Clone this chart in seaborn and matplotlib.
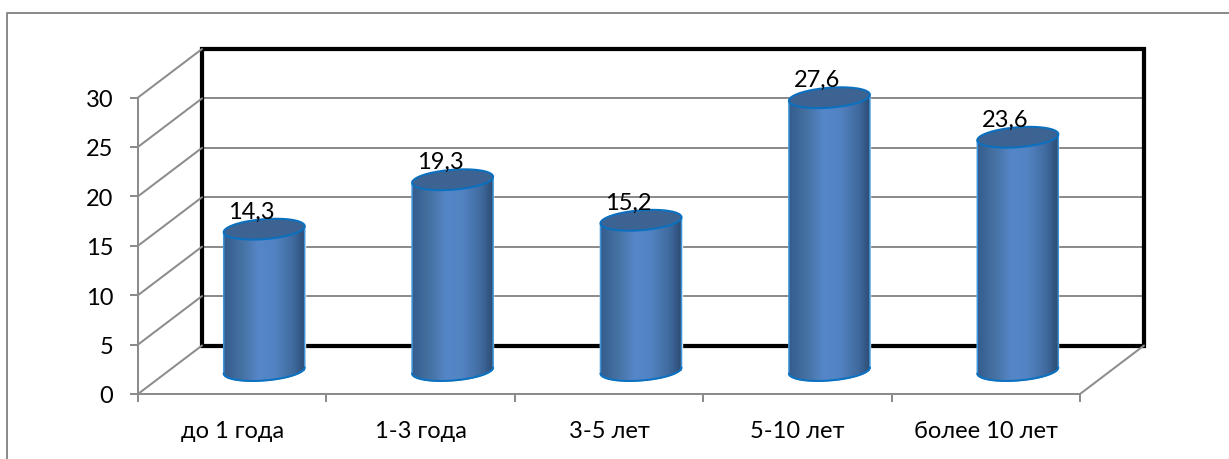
import numpy as np
import matplotlib
matplotlib.use("Agg")
import matplotlib.pyplot as plt
import matplotlib.transforms as mtrans
from matplotlib.colors import LinearSegmentedColormap
from matplotlib.lines import Line2D
from matplotlib.patches import Polygon, Rectangle
import seaborn as sns

categories = ["до 1 года", "1-3 года", "3-5 лет", "5-10 лет", "более 10 лет"]
values = [14.3, 19.3, 15.2, 27.6, 23.6]
y_ticks = [0, 5, 10, 15, 20, 25, 30]

GRAY = "#8c8c8c"
EDGE = "#0a70c0"
TOP = "#3c6391"
sns.set_theme(style="white")
plt.rcParams["font.family"] = ["Lato", "DejaVu Sans"]
FS = 17
PX = 0.72

W, H = 1229, 460
fig = plt.figure(figsize=(W / 100, H / 100), dpi=100, facecolor="white")
L, R, T, B = 138, 1080, 98.5, 395
ax = fig.add_axes([L / W, (H - B) / H, (R - L) / W, (B - T) / H])
ax.set_facecolor("none")

sns.barplot(x=categories, y=values, width=0.43, color="#4f7fc0", saturation=1, ax=ax, zorder=3)
bars = list(ax.patches)
ax.set_xlim(-0.5, len(categories) - 0.5)
ax.set_ylim(0, 30)
ax.set_xlabel("")
ax.set_ylabel("")

px_x = (R - L) / len(categories)
px_y = (B - T) / 30
wall_tf = mtrans.offset_copy(ax.transData, fig=fig, x=64, y=48.5, units="dots")
bar_tf = mtrans.offset_copy(ax.transData, fig=fig, x=32, y=23.5, units="dots")

# back wall, gridlines, side wall and floor
for v in y_ticks[1:-1]:
    ax.plot([-0.5, 4.5], [v, v], color=GRAY, lw=2 * PX, transform=wall_tf, clip_on=False, zorder=1)
for v in y_ticks:
    x0, y0 = ax.transData.transform((-0.5, v))
    x1, y1 = wall_tf.transform((-0.5, v))
    fig.add_artist(Line2D([x0 / W, x1 / W], [y0 / H, y1 / H], color=GRAY, lw=2 * PX, zorder=1))
x0, y0 = ax.transData.transform((4.5, 0))
x1, y1 = wall_tf.transform((4.5, 0))
fig.add_artist(Line2D([x0 / W, x1 / W], [y0 / H, y1 / H], color=GRAY, lw=2 * PX, zorder=1))
ax.add_patch(Rectangle((-0.5, 0), 5, 30, fc="none", ec="black", lw=4.2 * PX, transform=wall_tf,
                       clip_on=False, zorder=2, joinstyle="miter"))

# cylinders
cmap = LinearSegmentedColormap.from_list(
    "cyl", [(0, "#355c8e"), (0.2, "#44709f"), (0.42, "#5586c8"), (0.62, "#5283c2"), (0.85, "#3f6a9e"), (1, "#2b4a70")])
grad = np.linspace(0, 1, 256).reshape(1, -1)
t = np.linspace(0, 2 * np.pi, 120)
lower = np.linspace(np.pi, 2 * np.pi, 60)
for i, (bar, v) in enumerate(zip(bars, values)):
    a = bar.get_width() / 2
    b = 10 / px_y
    k = 3 / px_y
    cx = bar.get_x() + a
    bar.set_transform(bar_tf)
    bar.set_clip_on(False)
    bx = cx + a * np.cos(lower)
    by = b * np.sin(lower) + k * np.cos(lower)
    body = np.vstack([np.column_stack([bx, by]), [[cx + a, v + k], [cx - a, v - k]]])
    clip = Polygon(body, closed=True, transform=bar_tf, fc="none", ec="#3f95d8", lw=1.5 * PX, zorder=3.2, clip_on=False)
    ax.add_patch(clip)
    img = ax.imshow(grad, extent=[cx - a, cx + a, -1.5, v + 1], aspect="auto", cmap=cmap,
                    transform=bar_tf, zorder=3.1, interpolation="bilinear")
    img.set_clip_path(Polygon(body, closed=True, transform=bar_tf))
    ax.plot(bx, by, color=EDGE, lw=2 * PX, transform=bar_tf, clip_on=False, zorder=3.3)
    tx = cx + a * np.cos(t)
    ty = v + b * np.sin(t) + k * np.cos(t)
    ax.fill(tx, ty, fc=TOP, ec=EDGE, lw=2 * PX, transform=bar_tf, clip_on=False, zorder=3.4)
    ax.text(cx - 12.5 / px_x, v + 18 / px_y, f"{v:.1f}".replace(".", ","), ha="center", va="center",
            fontsize=FS, color="black", transform=bar_tf, zorder=4, clip_on=False)
ax.set_xlim(-0.5, len(categories) - 0.5)
ax.set_ylim(0, 30)

# axes
for s in ("top", "right"):
    ax.spines[s].set_visible(False)
for s in ("left", "bottom"):
    ax.spines[s].set_color(GRAY)
    ax.spines[s].set_linewidth(2 * PX)
ax.set_xticks(range(len(categories)), categories)
ax.set_xticks(np.arange(len(categories) + 1) - 0.5, minor=True)
ax.set_yticks(y_ticks, [str(v) for v in y_ticks])
ax.tick_params(axis="x", which="major", length=0, pad=18.5, labelsize=FS, labelcolor="black")
ax.tick_params(axis="x", which="minor", length=8 * PX, width=2 * PX, color=GRAY, direction="out", bottom=True)
ax.tick_params(axis="y", length=8 * PX, width=2 * PX, color=GRAY, direction="out", left=True, pad=12,
               labelsize=FS, labelcolor="black")
ax.grid(False)

# outer frame, left and top only
fig.add_artist(Line2D([7 / W, 7 / W, 1], [0, (H - 14) / H, (H - 14) / H], color=GRAY, lw=2 * PX))

fig.savefig("out.png", dpi=100, facecolor="white")
